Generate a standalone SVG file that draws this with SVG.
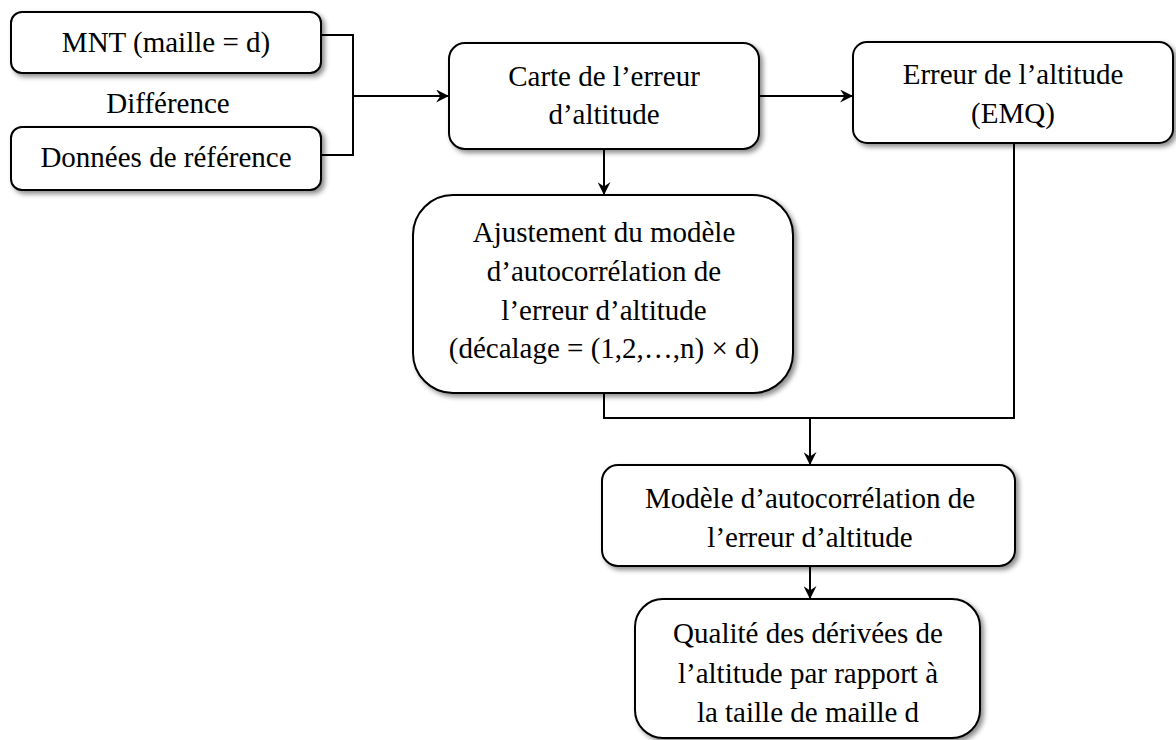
<svg xmlns="http://www.w3.org/2000/svg" width="1176" height="740" viewBox="0 0 1176 740">
<style>
.box{fill:#fff;stroke:#000;stroke-width:2;filter:url(#sh)}
.t{font-family:'Liberation Serif','Times New Roman',serif;font-size:29px;fill:#000;text-anchor:middle}
.c{fill:none;stroke:#000;stroke-width:2}
</style>
<defs>
<filter id="sh" x="-10%" y="-10%" width="130%" height="130%">
<feDropShadow dx="3" dy="3" stdDeviation="2.5" flood-color="#000" flood-opacity="0.45"/>
</filter>
<marker id="ah" viewBox="0 0 12 12" refX="11" refY="6" markerWidth="13" markerHeight="13" markerUnits="userSpaceOnUse" orient="auto">
<path d="M0,0 L12,6 L0,12 L4,6 Z" fill="#000"/>
</marker>
</defs>
<rect width="1176" height="740" fill="#fff"/>
<g id="connectors">
<path class="c" d="M321,35 H353 V155 H321"/>
<path class="c" d="M353,96 H448" marker-end="url(#ah)"/>
<path class="c" d="M759,96 H852" marker-end="url(#ah)"/>
<path class="c" d="M604,149 V194" marker-end="url(#ah)"/>
<path class="c" d="M604,393 V418 H1014 V143"/>
<path class="c" d="M810,418 V464" marker-end="url(#ah)"/>
<path class="c" d="M810,566 V598" marker-end="url(#ah)"/>
</g>
<g id="mnt">
<rect class="box" x="11" y="12" width="310" height="61" rx="11"/>
<text class="t" x="166" y="52">MNT (maille = d)</text>
</g>
<g id="difference">
<text class="t" x="168" y="113">Différence</text>
</g>
<g id="donnees">
<rect class="box" x="11" y="127" width="310" height="63" rx="11"/>
<text class="t" x="166" y="167">Données de référence</text>
</g>
<g id="carte">
<rect class="box" x="449" y="43" width="310" height="106" rx="16"/>
<text class="t" x="604" y="86">Carte de l’erreur</text>
<text class="t" x="604" y="124">d’altitude</text>
</g>
<g id="erreur">
<rect class="box" x="853" y="42" width="320" height="101" rx="14"/>
<text class="t" x="1013" y="84">Erreur de l’altitude</text>
<text class="t" x="1013" y="123">(EMQ)</text>
</g>
<g id="ajustement">
<rect class="box" x="413" y="195" width="380" height="198" rx="40"/>
<text class="t" x="604" y="242">Ajustement du modèle</text>
<text class="t" x="604" y="281">d’autocorrélation de</text>
<text class="t" x="604" y="320">l’erreur d’altitude</text>
<text class="t" x="604" y="358">(décalage = (1,2,…,n) × d)</text>
</g>
<g id="modele">
<rect class="box" x="602" y="465" width="413" height="101" rx="16"/>
<text class="t" x="810" y="508">Modèle d’autocorrélation de</text>
<text class="t" x="810" y="547">l’erreur d’altitude</text>
</g>
<g id="qualite">
<rect class="box" x="635" y="599" width="345" height="139" rx="28"/>
<text class="t" x="808" y="643">Qualité des dérivées de</text>
<text class="t" x="808" y="683">l’altitude par rapport à</text>
<text class="t" x="808" y="722">la taille de maille d</text>
</g>
</svg>
